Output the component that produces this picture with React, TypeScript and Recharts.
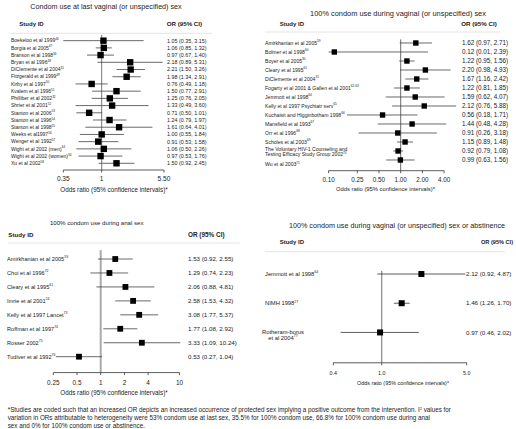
import React from "react";
import { ScatterChart, Scatter, XAxis, YAxis, ErrorBar, ReferenceLine } from "recharts";

const FONT = '"Liberation Sans", Arial, Helvetica, sans-serif';
const INK = "#222";

// ---------- Panel A: condom use at last vaginal sex ----------
const lastStudies = [
  "Boekeloo et al 1999", "Borgia et al 2005", "Branson et al 1998", "Bryan et al 1996",
  "DiClemente et al 2004", "Fitzgerald et al 1999", "Kirby et al 1997", "Kvalem et al 1996",
  "Philliber et al 2002", "Shrier et al 2001", "Stanton et al 2006", "Stanton et al 1996",
  "Stanton et al 1998", "Weeks et al1997", "Wenger et al 1992", "Wight et al 2002 (men)",
  "Wight et al 2002 (women)", "Xu et al 2002",
];
const lastRefs = ["46", "47", "36", "48", "31", "49", "50", "51", "32", "52", "53", "54", "55", "56", "57", "34", "34", "58"];
const lastOR = [1.05, 1.06, 0.97, 2.18, 2.21, 1.98, 0.76, 1.5, 1.25, 1.33, 0.71, 1.24, 1.61, 1.0, 0.91, 1.06, 0.97, 1.5];
const lastLow = [0.35, 0.85, 0.67, 0.89, 1.5, 1.34, 0.49, 0.77, 0.76, 0.49, 0.5, 0.79, 0.64, 0.55, 0.53, 0.5, 0.53, 0.92];
const lastHigh = [3.15, 1.32, 1.4, 5.31, 3.26, 2.91, 1.18, 2.91, 2.05, 3.6, 1.01, 1.97, 4.01, 1.84, 1.58, 2.26, 1.76, 2.45];
const lastTicks = [0.35, 1, 5.5];
const lastTickLabels = ["0.35", "1", "5.50"];

// ---------- Panel B: 100% condom use, vaginal ----------
const fullStudies = [
  "Amirkhanian et al 2005", "Bolmer et al 1998", "Boyer et al 2005", "Cleary et al 1995",
  "DiClemente et al 2004", "Fogarty et al 2001 & Gallen et al 2001", "Jemmott et al 1998",
  "Kelly et al 1997 Psychiatr serv", "Kuchaisit and Higginbotham 1998", "Mansfield et al 1993",
  "Orr et al 1996", "Scholes et al 2003",
  "The Voluntary HIV-1 Counseling and|Testing Efficacy Study Group 2002", "Wu et al 2003",
];
const fullRefs = ["59", "60", "30", "61", "31", "62,63", "64", "65", "66", "67", "68", "69", "70", "71"];
const fullOR = [1.62, 0.12, 1.22, 2.2, 1.67, 1.22, 1.59, 2.12, 0.56, 1.44, 0.91, 1.15, 0.92, 0.99];
const fullLow = [0.97, 0.01, 0.95, 0.98, 1.16, 0.81, 0.62, 0.76, 0.18, 0.48, 0.26, 0.89, 0.79, 0.63];
const fullHigh = [2.71, 2.39, 1.56, 4.93, 2.42, 1.85, 4.07, 5.88, 1.71, 4.28, 3.18, 1.48, 1.08, 1.56];
const fullTicks = [0.1, 0.25, 0.5, 1, 2, 4];
const fullTickLabels = ["0.10", "0.25", "0.50", "1.00", "2.00", "4.00"];

// ---------- Panel C: 100% condom use, anal ----------
const analStudies = [
  "Amirkhanian et al 2005", "Choi et al 1996", "Cleary et al 1995", "Imrie et al 2001",
  "Kelly et al 1997 Lancet", "Roffman et al 1997", "Rosser 2002", "Tudiver et al 1992",
];
const analRefs = ["59", "72", "61", "24", "73", "74", "75", "76"];
const analOR = [1.53, 1.29, 2.06, 2.58, 3.08, 1.77, 3.33, 0.53];
const analLow = [0.92, 0.74, 0.88, 1.53, 1.77, 1.08, 1.09, 0.27];
const analHigh = [2.55, 2.23, 4.81, 4.32, 5.37, 2.92, 10.24, 1.04];
const analTicks = [0.25, 0.5, 1, 2, 4, 10];
const analTickLabels = ["0.25", "0.5", "1", "2", "4", "10"];

// ---------- Panel D: 100% condom use or abstinence ----------
const abstStudies = ["Jemmott et al 1998", "NIMH 1998", "Rotheram-borus|et al 2004"];
const abstRefs = ["64", "27", "77"];
const abstOR = [2.12, 1.46, 0.97];
const abstLow = [0.92, 1.26, 0.46];
const abstHigh = [4.87, 1.7, 2.02];
const abstTicks = [0.4, 1, 5];
const abstTickLabels = ["0.4", "1.0", "5.0"];

const fmt = (v: number) => v.toFixed(2);

const AX_H = 20; // reserved x-axis height
const AX_W = 20; // reserved y-axis width

type Layout = {
  xDomain: [number, number];
  yDomain: [number, number];
  plot: { top: number; bottom: number; left: number; right: number };
  labelX: number;
  orX: number;
  labelFs: number;
  orFs: number;
  tickFs: number;
  tickMargin: number;
  refStroke: string;
  refWidth: number;
  ciStroke: string;
  marker: number;
  wrapCenterX?: number;
  lineGap: number;
  multiOffset: number;
  nudge?: { [k: number]: number };
};

function Panel(props: {
  names: string[];
  refs: string[];
  or: number[];
  lo: number[];
  hi: number[];
  ticks: number[];
  tickLabels: string[];
  L: Layout;
}) {
  const { names, refs, or, lo, hi, ticks, tickLabels, L } = props;
  const rows = or.map((v, i) => ({
    x: v,
    y: i,
    err: [v - Math.max(lo[i], L.xDomain[0]), Math.min(hi[i], L.xDomain[1]) - v],
  }));
  const idx = names.map((_, i) => i);

  const renderTick = (p: any) => {
    const i = Math.round(p.payload.value);
    if (i < 0 || i >= names.length) return <g />;
    const lines = names[i].split("|");
    const multi = lines.length > 1;
    const centered = multi && L.wrapCenterX !== undefined;
    const y = p.y;
    const ly = y + (multi ? L.multiOffset : 0) + ((L.nudge && L.nudge[i]) || 0);
    return (
      <g>
        {lines.map((ln, k) => (
          <text
            key={k}
            x={centered ? L.wrapCenterX : L.labelX}
            y={ly + k * L.lineGap}
            dy="0.35em"
            textAnchor={centered ? "middle" : "start"}
            fontSize={L.labelFs}
            fill={INK}
            fontFamily={FONT}
          >
            {ln}
            {k === lines.length - 1 ? (
              <tspan dy={-L.labelFs * 0.45} fontSize={L.labelFs * 0.62}>
                {refs[i]}
              </tspan>
            ) : null}
          </text>
        ))}
        <text x={L.orX} y={y} dy="0.35em" fontSize={L.orFs} fill={INK} fontFamily={FONT}>
          {`${fmt(or[i])} (${fmt(lo[i])}, ${fmt(hi[i])})`}
        </text>
      </g>
    );
  };

  const s = L.marker;
  const margin = {
    top: L.plot.top,
    left: L.plot.left - AX_W,
    right: 516 - L.plot.right,
    bottom: 429 - L.plot.bottom - AX_H,
  };
  return (
    <div style={{ position: "absolute", left: 0, top: 0 }}>
      <ScatterChart width={516} height={429} margin={margin}>
        <XAxis
          type="number"
          dataKey="x"
          scale="log"
          domain={L.xDomain}
          allowDataOverflow
          ticks={ticks}
          interval={0}
          tickFormatter={(v: number) => {
            let best = 0;
            ticks.forEach((t, j) => {
              if (Math.abs(t - v) < Math.abs(ticks[best] - v)) best = j;
            });
            return tickLabels[best];
          }}
          axisLine={false}
          height={AX_H}
          tickSize={2.5}
          tickMargin={L.tickMargin}
          tickLine={{ stroke: "#333", strokeWidth: 0.8 }}
          tick={{ fontSize: L.tickFs, fill: INK, fontFamily: FONT }}
        />
        <YAxis
          type="number"
          dataKey="y"
          domain={L.yDomain}
          reversed
          allowDataOverflow
          ticks={idx}
          interval={0}
          width={AX_W}
          axisLine={false}
          tickLine={false}
          tick={renderTick}
        />
        <ReferenceLine x={1} stroke={L.refStroke} strokeWidth={L.refWidth} />
        <ReferenceLine
          segment={[
            { x: ticks[0], y: L.yDomain[1] },
            { x: ticks[ticks.length - 1], y: L.yDomain[1] },
          ]}
          stroke="#333"
          strokeWidth={0.8}
          ifOverflow="visible"
        />
        <Scatter
          data={rows}
          isAnimationActive={false}
          shape={(p: any) => (
            <rect x={p.cx - s / 2} y={p.cy - s / 2} width={s} height={s} fill="#000" />
          )}
        >
          <ErrorBar dataKey="err" direction="x" width={0} stroke={L.ciStroke} strokeWidth={0.8} />
        </Scatter>
      </ScatterChart>
    </div>
  );
}

const lastLayout: Layout = {
  xDomain: [0.35, 5.5],
  yDomain: [-0.8, 17.93],
  plot: { top: 34.9, bottom: 170, left: 63.3, right: 164 },
  labelX: 11,
  orX: 167,
  labelFs: 5,
  orFs: 5.4,
  tickFs: 6.6,
  tickMargin: 4,
  refStroke: "#666",
  refWidth: 0.9,
  ciStroke: "#444",
  marker: 6.4,
  lineGap: 5,
  multiOffset: 0,
};
const fullLayout: Layout = {
  xDomain: [0.1, 6],
  yDomain: [-0.4, 14.19],
  plot: { top: 39.4, bottom: 170.7, left: 328.6, right: 456.8 },
  labelX: 265,
  orX: 462,
  labelFs: 5.1,
  orFs: 6.3,
  tickFs: 6.3,
  tickMargin: 4.5,
  refStroke: "#444",
  refWidth: 0.8,
  ciStroke: "#444",
  marker: 5.4,
  lineGap: 5.2,
  multiOffset: -2,
  nudge: { 13: 4.5 },
};
const analLayout: Layout = {
  xDomain: [0.25, 10.25],
  yDomain: [-0.64, 8.14],
  plot: { top: 250.1, bottom: 372.6, left: 53.3, right: 180.3 },
  labelX: 7,
  orX: 188,
  labelFs: 5.6,
  orFs: 6.2,
  tickFs: 6.4,
  tickMargin: 5.2,
  refStroke: "#aaa",
  refWidth: 2,
  ciStroke: "#444",
  marker: 5.8,
  lineGap: 5,
  multiOffset: 0,
};
const abstLayout: Layout = {
  xDomain: [0.4, 5],
  yDomain: [-0.1, 3.04],
  plot: { top: 271.1, bottom: 362.8, left: 333.3, right: 466.7 },
  labelX: 265,
  orX: 466,
  labelFs: 5.8,
  orFs: 6.2,
  tickFs: 5.3,
  tickMargin: 5.6,
  refStroke: "#888",
  refWidth: 1.2,
  ciStroke: "#333",
  marker: 6,
  wrapCenterX: 283,
  lineGap: 5.2,
  multiOffset: 0,
};

const footnote = [
  "*Studies are coded such that an increased OR depicts an increased occurrence of protected sex implying a positive outcome from the intervention. I",
  "variation in ORs attributable to heterogeneity were 53% condom use at last sex, 35.5% for 100% condom use, 66.8% for 100% condom use during anal",
  "sex and 0% for 100% condom use or abstinence.",
];

function T(p: { x: number; y: number; s: number; bold?: boolean; anchor?: string; children: any }) {
  return (
    <text
      x={p.x}
      y={p.y}
      dy="0.35em"
      fontSize={p.s}
      fontWeight={p.bold ? "bold" : "normal"}
      textAnchor={(p.anchor as any) || "start"}
      fill={INK}
      fontFamily={FONT}
    >
      {p.children}
    </text>
  );
}

export default function App() {
  const axisTitle = "Odds ratio (95% confidence intervals)*";
  return (
    <div
      style={{
        position: "absolute",
        left: 0,
        top: 0,
        width: 516,
        height: 429,
        background: "#fff",
        overflow: "hidden",
      }}
    >
      <Panel names={lastStudies} refs={lastRefs} or={lastOR} lo={lastLow} hi={lastHigh} ticks={lastTicks} tickLabels={lastTickLabels} L={lastLayout} />
      <Panel names={fullStudies} refs={fullRefs} or={fullOR} lo={fullLow} hi={fullHigh} ticks={fullTicks} tickLabels={fullTickLabels} L={fullLayout} />
      <Panel names={analStudies} refs={analRefs} or={analOR} lo={analLow} hi={analHigh} ticks={analTicks} tickLabels={analTickLabels} L={analLayout} />
      <Panel names={abstStudies} refs={abstRefs} or={abstOR} lo={abstLow} hi={abstHigh} ticks={abstTicks} tickLabels={abstTickLabels} L={abstLayout} />
      <svg width={516} height={429} style={{ position: "absolute", left: 0, top: 0 }}>
        {/* Panel A */}
        <T x={106} y={6} s={7.2} anchor="middle">Condom use at last vaginal (or unspecified) sex</T>
        <T x={19.3} y={24} s={6} bold>Study ID</T>
        <T x={166.7} y={24} s={6.2} bold>OR (95% CI)</T>
        <line x1={10} x2={212} y1={33.3} y2={33.3} stroke="#ddd" strokeWidth={0.8} />
        <T x={114} y={190} s={6.3} anchor="middle">{axisTitle}</T>

        {/* Panel B */}
        <T x={398} y={13} s={7.4} anchor="middle">100% condom use during vaginal (or unspecified) sex</T>
        <T x={279.7} y={24} s={6} bold>Study ID</T>
        <T x={461.3} y={24} s={6.2} bold>OR (95% CI)</T>
        <line x1={265} x2={500} y1={32} y2={32} stroke="#ddd" strokeWidth={0.8} />
        <T x={385.5} y={189} s={5.8} anchor="middle">{axisTitle}</T>

        {/* Panel C */}
        <T x={96.7} y={223} s={6.1} anchor="middle">100% condom use during anal sex</T>
        <T x={8.3} y={235} s={6.2} bold>Study ID</T>
        <T x={188} y={235} s={6.4} bold>OR (95% CI)</T>
        <line x1={8} x2={240} y1={243} y2={243} stroke="#ddd" strokeWidth={0.8} />
        <T x={114} y={393} s={6.3} anchor="middle">{axisTitle}</T>

        {/* Panel D */}
        <T x={397} y={225} s={7.2} anchor="middle">100% condom use during vaginal (or unspecified) sex or abstinence</T>
        <T x={279.7} y={241.7} s={6} bold>Study ID</T>
        <T x={481} y={241.7} s={5.6} bold>OR (95% CI)</T>
        <line x1={265} x2={505} y1={251.7} y2={251.7} stroke="#ddd" strokeWidth={0.8} />
        <T x={403} y={382.7} s={5.4} anchor="middle">{axisTitle}</T>

        {/* Footnote */}
        <text x={7.7} y={410} dy="0.35em" fontSize={6.3} fill={INK} fontFamily={FONT}>
          {footnote[0]}
          <tspan dy={-2.5} fontSize={4}>2</tspan>
          <tspan dy={2.5}> values for</tspan>
        </text>
        <T x={7.7} y={417.8} s={6.3}>{footnote[1]}</T>
        <T x={7.7} y={425.6} s={6.3}>{footnote[2]}</T>
      </svg>
    </div>
  );
}
